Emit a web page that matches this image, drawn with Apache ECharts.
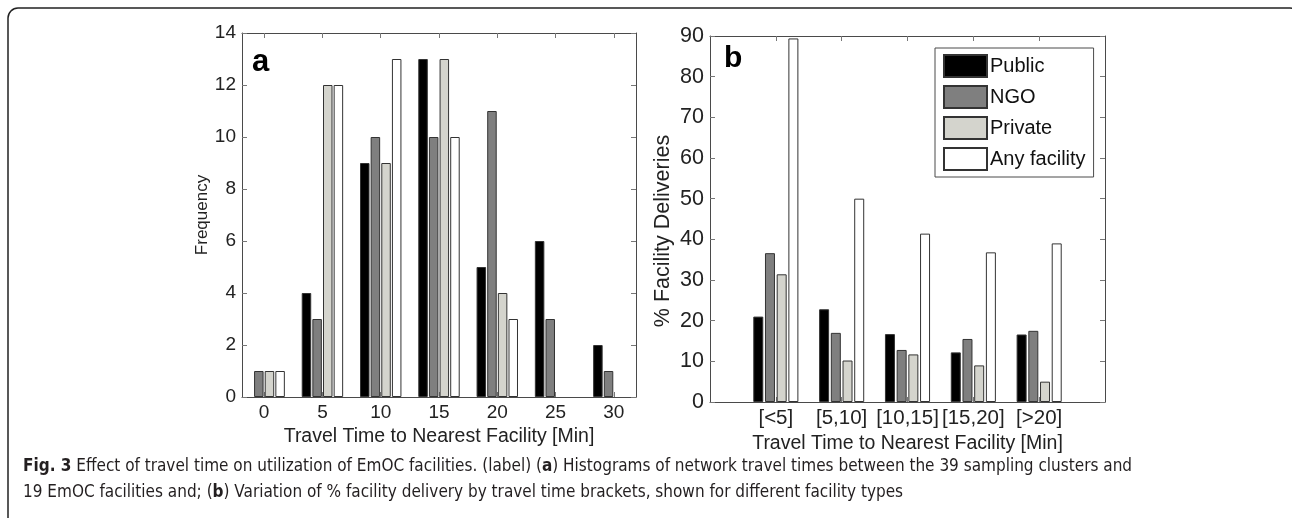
<!DOCTYPE html>
<html>
<head>
<meta charset="utf-8">
<title>Fig. 3</title>
<script src="https://cdn.jsdelivr.net/npm/echarts@6/dist/echarts.min.js"></script>
<style>
  html, body { margin: 0; padding: 0; background: #fff; }
  #chart { width: 1292px; height: 518px; }
</style>
</head>
<body>
<div id="chart"></div>
<script>
// panel a: histogram of travel times (frequency)
var binsA = [0, 5, 10, 15, 20, 25, 30];
var publicA = [0, 4, 9, 13, 5, 6, 2];
var ngoA = [1, 3, 10, 10, 11, 3, 1];
var privateA = [1, 12, 9, 13, 4, 0, 0];
var anyA = [1, 12, 13, 10, 3, 0, 0];

// panel b: % facility deliveries by travel time bracket
var bracketsB = ['[<5]', '[5,10]', '[10,15]', '[15,20]', '[>20]'];
var publicB = [21, 22.8, 16.7, 12.2, 16.6];
var ngoB = [36.6, 17, 12.8, 15.5, 17.5];
var privateB = [31.4, 10.2, 11.7, 9, 5];
var anyB = [89.4, 50, 41.4, 36.8, 39];

var seriesNames = ['Public', 'NGO', 'Private', 'Any facility'];
var seriesColors = ['#000000', '#7f7f7f', '#d4d4cd', '#ffffff'];

var FONT = '"Liberation Sans", Arial, sans-serif';
var CAPTION_FONT = '"Liberation Sans Narrow", "DejaVu Sans Condensed", sans-serif';
var AXIS_COLOR = '#4a4a4a';

var myChart = echarts.init(document.getElementById('chart'));

function boxAxis(gridIndex, position, extra) {
    var ax = {
        type: 'value',
        gridIndex: gridIndex,
        position: position,
        axisLine: { show: true, onZero: false, lineStyle: { color: AXIS_COLOR, width: 1 } },
        axisTick: { show: true, inside: true, length: 5, lineStyle: { color: '#777' } },
        axisLabel: { show: false },
        splitLine: { show: false }
    };
    for (var k in extra) {
        ax[k] = extra[k];
    }
    return ax;
}

// zero-height bars are left out so no border line shows on the axis
function pairs(xs, ys) {
    var out = [];
    for (var i = 0; i < ys.length; i++) {
        if (ys[i] !== 0) {
            out.push([xs[i], ys[i]]);
        }
    }
    return out;
}

var posB = bracketsB.map(function(b, i) { return i + 1; });

var dataA = [publicA, ngoA, privateA, anyA];
var dataB = [publicB, ngoB, privateB, anyB];

var series = [];
for (var s = 0; s < 4; s++) {
    series.push({
        name: seriesNames[s],
        type: 'bar',
        xAxisIndex: 0,
        yAxisIndex: 0,
        barWidth: 9.5,
        barGap: '12%',
        itemStyle: { color: seriesColors[s], borderColor: '#333', borderWidth: 1 },
        data: pairs(binsA, dataA[s]),
        silent: true
    });
}
for (var s = 0; s < 4; s++) {
    series.push({
        name: seriesNames[s],
        type: 'bar',
        xAxisIndex: 2,
        yAxisIndex: 2,
        barWidth: 10,
        barGap: '17%',
        itemStyle: { color: seriesColors[s], borderColor: '#333', borderWidth: 1 },
        data: pairs(posB, dataB[s]),
        silent: true
    });
}

var option = {
    animation: false,
    backgroundColor: '#fff',
    textStyle: { fontFamily: FONT },
    grid: [
        { left: 242, top: 33, width: 394, height: 364 },
        { left: 710, top: 36, width: 395, height: 366 }
    ],
    xAxis: [
        boxAxis(0, 'bottom', {
            min: -1.9, max: 31.9,
            name: 'Travel Time to Nearest Facility [Min]',
            nameLocation: 'middle', nameGap: 26,
            nameTextStyle: { fontSize: 19.5, color: '#222', fontFamily: FONT },
            axisTick: { show: true, inside: true, length: 5, customValues: binsA, lineStyle: { color: '#777' } },
            axisLabel: { show: true, customValues: binsA, margin: 6, fontSize: 19, color: '#222', fontFamily: FONT }
        }),
        boxAxis(0, 'top', {
            min: -1.9, max: 31.9,
            axisTick: { show: true, inside: true, length: 5, customValues: binsA, lineStyle: { color: '#777' } }
        }),
        boxAxis(1, 'bottom', {
            min: 0, max: 6,
            name: 'Travel Time to Nearest Facility [Min]',
            nameLocation: 'middle', nameGap: 27,
            nameTextStyle: { fontSize: 19.5, color: '#222', fontFamily: FONT },
            axisTick: { show: true, inside: true, length: 5, customValues: posB, lineStyle: { color: '#777' } },
            axisLabel: {
                show: true, customValues: posB, margin: 6, fontSize: 20.5, color: '#222', fontFamily: FONT,
                formatter: function(v) { return bracketsB[v - 1] || ''; }
            }
        }),
        boxAxis(1, 'top', {
            min: 0, max: 6,
            axisTick: { show: true, inside: true, length: 5, customValues: posB, lineStyle: { color: '#777' } }
        })
    ],
    yAxis: [
        boxAxis(0, 'left', {
            min: 0, max: 14, interval: 2,
            name: 'Frequency',
            nameLocation: 'middle', nameGap: 29,
            nameTextStyle: { fontSize: 17, color: '#222', fontFamily: FONT },
            axisLabel: { show: true, margin: 6, fontSize: 19, color: '#222', fontFamily: FONT }
        }),
        boxAxis(0, 'right', { min: 0, max: 14, interval: 2 }),
        boxAxis(1, 'left', {
            min: 0, max: 90, interval: 10,
            name: '% Facility Deliveries',
            nameLocation: 'middle', nameGap: 36,
            nameTextStyle: { fontSize: 21.5, color: '#222', fontFamily: FONT, padding: [0, 24, 0, 0] },
            axisLabel: { show: true, margin: 6, fontSize: 21.5, color: '#222', fontFamily: FONT }
        }),
        boxAxis(1, 'right', { min: 0, max: 90, interval: 10 })
    ],
    legend: {
        data: seriesNames,
        orient: 'vertical',
        left: 935,
        top: 48,
        itemWidth: 43,
        itemHeight: 22,
        itemGap: 7,
        padding: [6, 8, 6, 8],
        borderColor: AXIS_COLOR,
        borderWidth: 1,
        backgroundColor: '#fff',
        icon: 'rect',
        selectedMode: false,
        textStyle: { fontSize: 20, color: '#111', fontFamily: FONT, padding: [0, 0, 0, -2] }
    },
    series: series,
    graphic: [
        {
            type: 'rect',
            shape: { x: 8, y: 8, width: 1292, height: 540, r: 10 },
            style: { fill: 'none', stroke: '#222', lineWidth: 1.5 },
            silent: true
        },
        {
            type: 'text', left: 252, top: 47,
            style: { text: 'a', font: 'bold 31px ' + FONT, fill: '#000' }
        },
        {
            type: 'text', left: 724, top: 44,
            style: { text: 'b', font: 'bold 30px ' + FONT, fill: '#000' }
        },
        {
            type: 'text', left: 23, top: 454,
            style: {
                text: '{b|Fig. 3} Effect of travel time on utilization of EmOC facilities. (label) ({b|a}) Histograms of network travel times between the 39 sampling clusters and\n19 EmOC facilities and; ({b|b}) Variation of % facility delivery by travel time brackets, shown for different facility types',
                fill: '#231f20',
                font: '17px ' + CAPTION_FONT,
                lineHeight: 26,
                rich: {
                    b: { fontWeight: 'bold', fontSize: 17, fontFamily: CAPTION_FONT, fill: '#231f20', lineHeight: 26 }
                }
            },
            silent: true
        }
    ]
};

myChart.setOption(option);
</script>
</body>
</html>
